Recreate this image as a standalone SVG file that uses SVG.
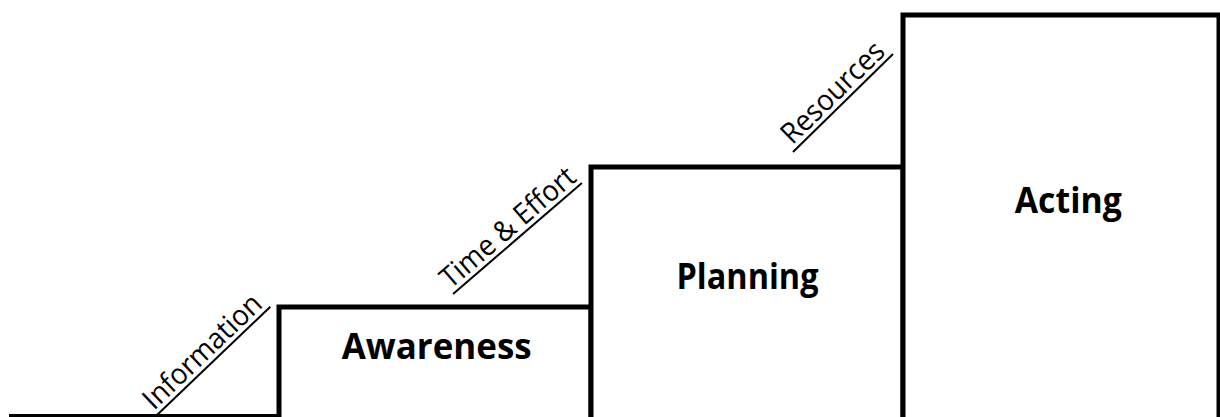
<svg xmlns="http://www.w3.org/2000/svg" width="1220" height="417" viewBox="0 0 1220 417">
<style>
.box{fill:#fff;stroke:#000;stroke-width:5}
.title{font-family:"Open Sans","Liberation Sans",sans-serif;font-weight:bold;font-size:36px;fill:#000;text-anchor:middle}
.lbl{font-family:"Open Sans","Liberation Sans",sans-serif;font-size:29px;fill:#000;text-anchor:middle}
.ul{stroke:#000;stroke-width:2}
.base{stroke:#000;stroke-width:5}
</style>
<rect width="1220" height="417" fill="#fff"/>
<g id="connectors">
<line class="base" x1="9" y1="416.5" x2="1220" y2="416.5"/>
</g>
<g id="awareness">
<rect class="box" x="279" y="307" width="312" height="115"/>
<text class="title" x="436.7" y="358.5" textLength="190" lengthAdjust="spacingAndGlyphs">Awareness</text>
</g>
<g id="planning">
<rect class="box" x="591" y="167" width="312" height="255"/>
<text class="title" x="747.5" y="288.5" textLength="142" lengthAdjust="spacingAndGlyphs">Planning</text>
</g>
<g id="acting">
<rect class="box" x="903" y="15" width="316" height="407"/>
<text class="title" x="1068.3" y="212.5" textLength="107" lengthAdjust="spacingAndGlyphs">Acting</text>
</g>
<g id="label-information" transform="translate(212.5,362) rotate(-43.7)">
<text class="lbl" x="0" y="-5" textLength="152" lengthAdjust="spacingAndGlyphs">Information</text>
<line class="ul" x1="-80" y1="0" x2="80" y2="0"/>
</g>
<g id="label-time" transform="translate(517.5,238.5) rotate(-40.7)">
<text class="lbl" x="0" y="-5" textLength="168" lengthAdjust="spacingAndGlyphs">Time &amp; Effort</text>
<line class="ul" x1="-85" y1="0" x2="85" y2="0"/>
</g>
<g id="label-resources" transform="translate(843,103) rotate(-44.4)">
<text class="lbl" x="0" y="-5" textLength="132" lengthAdjust="spacingAndGlyphs">Resources</text>
<line class="ul" x1="-70" y1="0" x2="70" y2="0"/>
</g>
</svg>
